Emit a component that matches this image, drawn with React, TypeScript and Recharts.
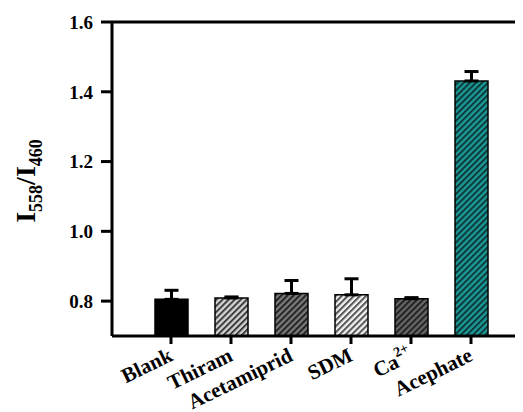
import { Bar, BarChart, Cell, ErrorBar, ReferenceLine, XAxis, YAxis } from 'recharts';

const categories = ['Blank', 'Thiram', 'Acetamiprid', 'SDM', 'Ca2+', 'Acephate'];
const ratio = [0.805, 0.809, 0.822, 0.818, 0.807, 1.431];
const errors = [0.026, 0.003, 0.037, 0.046, 0.003, 0.027];
const yTicks = [0.8, 1.0, 1.2, 1.4, 1.6];

const hatches = [
  { id: 'h0', bg: '#000000', fg: '#000000' },
  { id: 'h1', bg: '#d4d4d4', fg: '#3c3c3c' },
  { id: 'h2', bg: '#7a7a7a', fg: '#222222' },
  { id: 'h3', bg: '#f0f0f0', fg: '#555555' },
  { id: 'h4', bg: '#666666', fg: '#222222' },
  { id: 'h5', bg: '#1c9a98', fg: '#0c3a3a' },
];

const data = categories.map((name, i) => ({ name, value: ratio[i], err: errors[i] }));

const font = '"Liberation Serif", "Times New Roman", serif';

function XTick(props: any) {
  const { x, y, payload } = props;
  const label: string = payload.value;
  const isCa = label === 'Ca2+';
  return (
    <g transform={`translate(${x},${y})`}>
      <text
        x={3}
        y={14}
        transform="rotate(-26, 3, 14)"
        textAnchor="end"
        fontFamily={font}
        fontWeight="bold"
        fontSize={21}
        fill="#000"
      >
        {isCa ? (
          <>
            <tspan>Ca</tspan>
            <tspan fontSize={14} dy={-10}>2+</tspan>
          </>
        ) : (
          label
        )}
      </text>
    </g>
  );
}

export default function App() {
  return (
    <BarChart
      width={515}
      height={404}
      data={data}
      margin={{ top: 14, right: 0, bottom: 0, left: 0 }}
      barSize={33}
    >
      <defs>
        {hatches.map((h) => (
          <pattern
            key={h.id}
            id={h.id}
            width={4.3}
            height={4.3}
            patternUnits="userSpaceOnUse"
            patternTransform="rotate(45)"
          >
            <rect width={4.3} height={4.3} fill={h.bg} />
            <line x1={1} y1={0} x2={1} y2={4.3} stroke={h.fg} strokeWidth={2} />
          </pattern>
        ))}
      </defs>
      <text
        transform="translate(27,173) rotate(-90)"
        textAnchor="middle"
        fontFamily={font}
        fontWeight="bold"
        fontSize={28}
        fill="#000"
      >
        <tspan>I</tspan>
        <tspan fontSize={18} dy={7}>558</tspan>
        <tspan dy={-7}>/I</tspan>
        <tspan fontSize={18} dy={7}>460</tspan>
      </text>
      <XAxis
        dataKey="name"
        height={76}
        padding={{ left: 29, right: 22 }}
        axisLine={{ stroke: '#000', strokeWidth: 3 }}
        tickLine={{ stroke: '#000', strokeWidth: 3 }}
        tickSize={8}
        interval={0}
        tick={<XTick />}
      />
      <YAxis
        width={104}
        domain={[0.7, 1.6]}
        ticks={yTicks}
        allowDataOverflow
        tickFormatter={(v) => v.toFixed(1)}
        axisLine={{ stroke: '#000', strokeWidth: 3 }}
        tickLine={{ stroke: '#000', strokeWidth: 3 }}
        tickSize={11}
        tickMargin={8}
        tick={{ fill: '#000', fontFamily: font, fontWeight: 'bold', fontSize: 19 }}
      />
      <ReferenceLine y={1.6} stroke="#000" strokeWidth={3} />
      <Bar dataKey="value" stroke="#000" strokeWidth={1.5} isAnimationActive={false}>
        {data.map((d, i) => (
          <Cell key={d.name} fill={`url(#${hatches[i].id})`} />
        ))}
        <ErrorBar
          dataKey={(d: any) => [0, d.err]}
          width={7}
          stroke="#000"
          strokeWidth={3}
          direction="y"
        />
      </Bar>
    </BarChart>
  );
}
